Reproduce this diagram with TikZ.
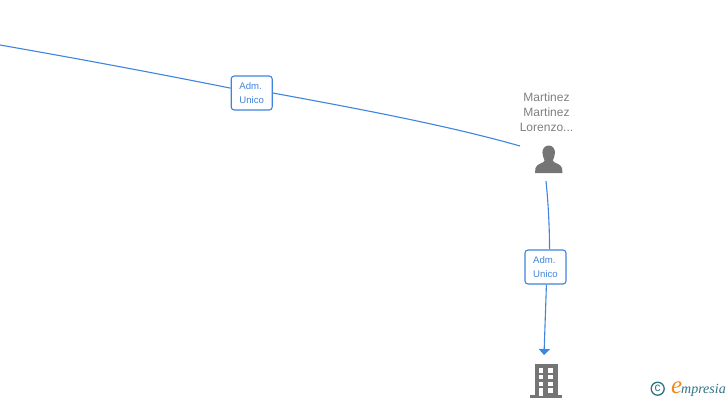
\documentclass[tikz,border=0pt]{standalone}
\usepackage{fontspec}
\setmainfont{Liberation Sans}
\newfontfamily\logofont{Liberation Serif}
\definecolor{linkblue}{HTML}{3F84DE}
\definecolor{icongray}{HTML}{757575}
\definecolor{namegray}{HTML}{7F7F7F}
\definecolor{logoblue}{HTML}{2F7286}
\definecolor{logoorange}{HTML}{EE8A1E}
\usetikzlibrary{arrows.meta}
\tikzset{
  edgeline/.style={draw=linkblue,line width=1.1pt},
  rolebox/.style={draw=linkblue,fill=white,rounded corners=3pt,line width=1.1pt,
    minimum width=41pt,minimum height=34pt,inner sep=0pt,align=left,
    text=linkblue,font=\fontsize{9.6}{14.6}\selectfont},
  namelabel/.style={text=namegray,align=center,inner sep=0pt,font=\fontsize{12}{15}\selectfont},
  icon/.style={fill=icongray,draw=none}
}
\begin{document}
\begin{tikzpicture}[x=1pt,y=-1pt]
\useasboundingbox (0,0) rectangle (728,400);
\coordinate (start) at (0,45);
\coordinate (personTop) at (520,146);
\coordinate (personBottom) at (546,181);
\coordinate (buildingTop) at (544,355);
\node[rolebox] (roleA) at (251.7,93) {Adm.\\Unico};
\node[rolebox] (roleB) at (545.5,267) {Adm.\\Unico};
\draw[edgeline] (start) .. controls (80,59) and (160,74) .. (roleA.167);
\draw[edgeline] (roleA.east) .. controls (360,109) and (450,126) .. (personTop);
\draw[edgeline] (personBottom) .. controls (548,200) and (549.5,225) .. (roleB.77);
\draw[edgeline,-{Triangle[width=11pt,length=6pt]}] (roleB.-87) -- (buildingTop);
\node[namelabel] (name) at (546.5,112) {Martinez\\Martinez\\Lorenzo...};
% person icon
\path[icon] (548.7,145.5) .. controls (552.8,145.5) and (555,149) .. (555,152.5)
  .. controls (555,156) and (553.5,158.5) .. (552.8,160.5)
  .. controls (552.8,163) and (561,163.5) .. (562,168) -- (562.5,173) -- (535,173) -- (535.5,168)
  .. controls (536.5,163.5) and (544.6,163) .. (544.6,160.5)
  .. controls (544,158.5) and (542.4,156) .. (542.4,152.5)
  .. controls (542.4,149) and (544.6,145.5) .. (548.7,145.5) -- cycle;
% building icon
\path[icon] (535,364) rectangle (557.7,395.5);
\path[icon] (530,395.2) rectangle (562,398);
\foreach \y/\h in {368/5,375/4.4,381.7/4.4}{
  \fill[white] (538.7,\y) rectangle (543.3,\y+\h);
  \fill[white] (548.3,\y) rectangle (553.3,\y+\h);
}
\fill[white] (538.7,388) rectangle (543.3,395.5);
\fill[white] (548.3,388) rectangle (553.3,392.5);
% logo
\node[draw=logoblue,line width=1.3pt,circle,minimum size=13pt,inner sep=0pt,text=logoblue,font=\fontsize{12}{12}\selectfont] (copy) at (657.7,388.7) {c};
\node[text=logoorange,inner sep=0pt,anchor=base west,font=\logofont\fontsize{25}{25}\selectfont\itshape] (elogo) at (671,393) {e};
\node[text=logoblue,inner sep=0pt,anchor=base west,font=\logofont\fontsize{14}{14}\selectfont\itshape] (wordlogo) at (681,393) {mpresia};
\end{tikzpicture}
\end{document}
